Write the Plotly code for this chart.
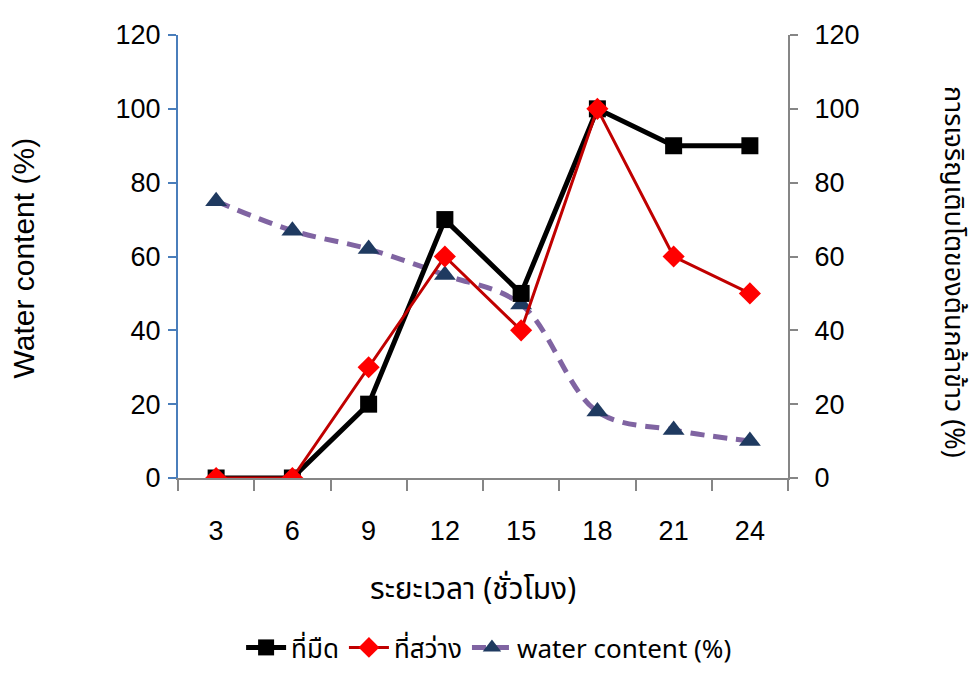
import plotly.graph_objects as go

hours = ["3", "6", "9", "12", "15", "18", "21", "24"]
dark = [0, 0, 20, 70, 50, 100, 90, 90]
light = [0, 0, 30, 60, 40, 100, 60, 50]
water = [75, 67, 62, 55, 47, 18, 13, 10]
y_ticks = [0, 20, 40, 60, 80, 100, 120]

name_dark = "ที่มืด"
name_light = "ที่สว่าง"
name_water = "water content (%)"
x_title = "ระยะเวลา (ชั่วโมง)"
y_left_title = "Water content (%)"
y_right_title = "การเจริญเติบโตของต้นกล้าข้าว (%)"

THAI = "Noto Sans Thai, Tahoma, Leelawadee UI, Loma, Garuda, Liberation Sans, sans-serif"
ARIAL = "Arial, Liberation Sans, sans-serif"

fig = go.Figure()
fig.add_trace(go.Scatter(
    x=hours, y=water, name=name_water, mode="lines+markers", legendrank=3,
    line=dict(color="#8064A2", width=5, dash="14px,9px", shape="spline", smoothing=1.0),
    marker=dict(symbol="triangle-up", size=19, color="#1F3A60"),
    yaxis="y"))
fig.add_trace(go.Scatter(
    x=hours, y=dark, name=name_dark, mode="lines+markers", legendrank=1,
    line=dict(color="#000000", width=5),
    marker=dict(symbol="square", size=17, color="#000000"),
    yaxis="y2"))
fig.add_trace(go.Scatter(
    x=hours, y=light, name=name_light, mode="lines+markers", legendrank=2,
    line=dict(color="#C00000", width=3),
    marker=dict(symbol="diamond", size=17, color="#FF0000"),
    yaxis="y2"))

fig.update_layout(
    template="none",
    width=974, height=673,
    margin=dict(l=178, r=186, t=35, b=195, autoexpand=False),
    paper_bgcolor="white", plot_bgcolor="white",
    font=dict(family=ARIAL, size=27, color="black"),
    showlegend=True,
    legend=dict(orientation="h", x=0.51, xanchor="center", y=-0.4357, yanchor="bottom",
                font=dict(family=THAI, size=26), traceorder="normal",
                itemwidth=40, bgcolor="rgba(0,0,0,0)"),
    xaxis=dict(type="category", categoryorder="array", categoryarray=hours,
               range=[-0.5, 7.5], showline=True, linecolor="#868686", linewidth=2,
               ticks="outside", tickson="boundaries", ticklen=11, tickcolor="#868686",
               tickwidth=2, ticklabelstandoff=28, showgrid=False, zeroline=False,
               automargin=False, tickfont=dict(size=27, family=ARIAL)),
    yaxis=dict(range=[0, 120], tickvals=y_ticks, showline=True, linecolor="#4A7EBB",
               linewidth=2, ticks="outside", ticklen=8, tickcolor="#4A7EBB", tickwidth=2,
               showgrid=False, zeroline=False, ticklabelstandoff=2, automargin=False,
               tickfont=dict(size=27, family=ARIAL)),
    yaxis2=dict(range=[0, 120], tickvals=y_ticks, overlaying="y", side="right",
                showline=True, linecolor="#868686", linewidth=2, ticks="outside",
                ticklen=8, tickcolor="#868686", tickwidth=2, showgrid=False,
                zeroline=False, ticklabelstandoff=11, automargin=False,
                tickfont=dict(size=27, family=ARIAL)),
)

fig.add_annotation(text=y_left_title, xref="paper", yref="paper", x=-0.253, y=0.497,
                   textangle=-90, showarrow=False, font=dict(size=30, family=ARIAL),
                   xanchor="center", yanchor="middle")
fig.add_annotation(text=x_title, xref="paper", yref="paper", x=0.484, y=-0.253,
                   showarrow=False, font=dict(size=30, family=THAI),
                   xanchor="center", yanchor="middle")
fig.add_annotation(text=y_right_title, xref="paper", yref="paper", x=1.272, y=0.465,
                   textangle=90, showarrow=False, font=dict(size=27, family=THAI),
                   xanchor="center", yanchor="middle")

fig.write_html("out.html", config={"displayModeBar": False},
               post_script="document.body.style.margin='0';document.body.style.padding='0';")
